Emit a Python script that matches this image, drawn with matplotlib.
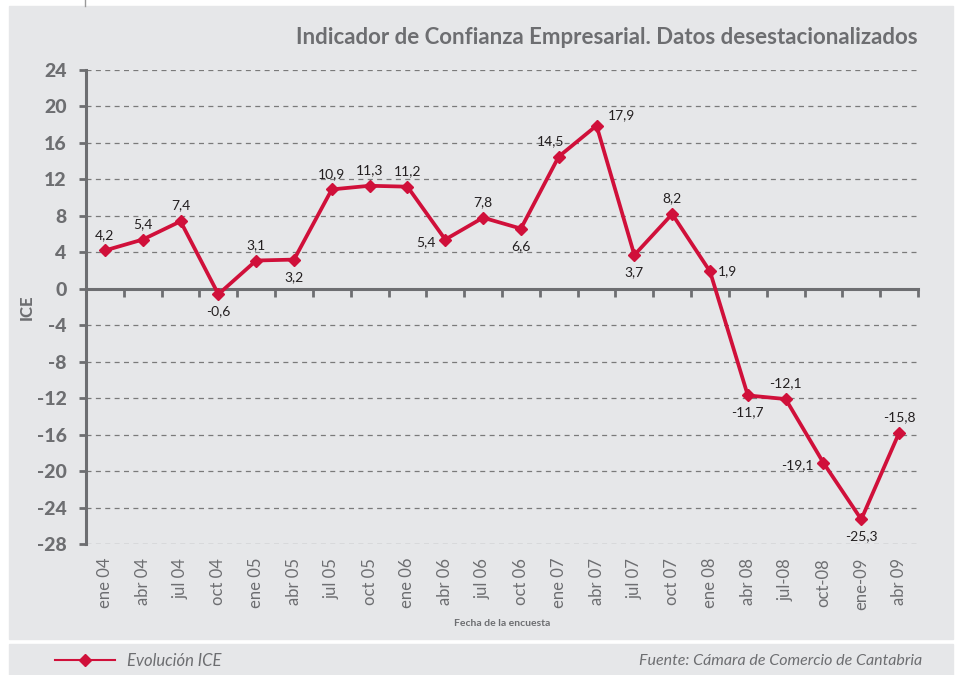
import matplotlib
matplotlib.use("Agg")
import numpy as np
import matplotlib.pyplot as plt
from matplotlib.patches import Rectangle
from matplotlib.lines import Line2D

# data
fechas = ['ene 04', 'abr 04', 'jul 04', 'oct 04', 'ene 05', 'abr 05', 'jul 05', 'oct 05',
          'ene 06', 'abr 06', 'jul 06', 'oct 06', 'ene 07', 'abr 07', 'jul 07', 'oct 07',
          'ene 08', 'abr 08', 'jul-08', 'oct-08', 'ene-09', 'abr 09']
ice = [4.2, 5.4, 7.4, -0.6, 3.1, 3.2, 10.9, 11.3, 11.2, 5.4, 7.8, 6.6,
       14.5, 17.9, 3.7, 8.2, 1.9, -11.7, -12.1, -19.1, -25.3, -15.8]
# where each value label sits relative to its point
label_pos = ['up', 'up', 'up', 'down', 'up', 'down', 'up', 'up', 'up', 'left', 'up', 'down',
             'upleft', 'upright', 'down', 'up', 'right', 'down', 'up', 'left', 'down', 'up']
yticks = list(range(-28, 25, 4))

gray = '#6d6e71'
red = '#d0103a'
panel = '#e6e7e9'
font = 'Lato'

plt.rcParams['font.family'] = [font, 'DejaVu Sans']

fig = plt.figure(figsize=(9.57, 6.75), dpi=100, facecolor='white')
W, H = 957, 675
# background panels
fig.patches.append(Rectangle((9 / W, 1 - 639 / H), 944 / W, 633 / H,
                             transform=fig.transFigure, color=panel, zorder=-5))
fig.patches.append(Rectangle((9 / W, 0), 944 / W, 1 - 644 / H,
                             transform=fig.transFigure, color=panel, zorder=-5))
fig.lines.append(Line2D([85 / W, 85 / W], [1, 1 - 6 / H], transform=fig.transFigure,
                        color='#9a9a9a', lw=1))

ax = fig.add_axes([86 / W, 1 - 544 / H, 832 / W, 474 / H])
ax.set_facecolor('none')

x = np.arange(len(ice))
ax.plot(x, ice, color=red, lw=2.7, marker='D', markersize=6.5, zorder=5, clip_on=False)

off = {'up': ((0, 7), 'center', 'bottom'), 'down': ((0, -8), 'center', 'top'),
       'left': ((-7, -2), 'right', 'center'), 'right': ((6, 0), 'left', 'center'),
       'upleft': ((-6, 7), 'center', 'bottom'), 'upright': ((8, 3), 'left', 'bottom')}
for xi, v, p in zip(x, ice, label_pos):
    d, ha, va = off[p]
    ax.annotate(f'{v:.1f}'.replace('.', ','), (xi, v), xytext=d, textcoords='offset points',
                ha=ha, va=va, fontsize=10, color='#231f20')

ax.set_xlim(-0.5, len(ice) - 0.5)
ax.set_ylim(-28, 24)
ax.set_yticks(yticks)
ax.set_yticklabels([str(t) for t in yticks], fontsize=14, fontweight='black', color=gray)
ax.tick_params(axis='y', direction='out', length=5, width=2, color=gray, pad=9)
ax.yaxis.grid(True, linestyle=(0, (4, 3.5)), color='#7a7a7a', lw=0.9)
ax.set_axisbelow(True)

for s in ['top', 'right']:
    ax.spines[s].set_visible(False)
ax.spines['left'].set_color(gray)
ax.spines['left'].set_linewidth(2.2)
ax.spines['bottom'].set_position(('data', 0))
ax.spines['bottom'].set_color(gray)
ax.spines['bottom'].set_linewidth(2.2)
ax.set_xticks(np.arange(len(ice) + 1) - 0.5)
ax.set_xticklabels([])
ax.tick_params(axis='x', direction='out', length=6, width=2, color=gray)

sec = ax.secondary_xaxis(0.0)
sec.set_xticks(x)
sec.set_xticklabels(fechas, rotation=90, fontsize=12, color=gray)
sec.tick_params(length=0, pad=10)
sec.spines['bottom'].set_visible(False)

ax.set_ylabel('ICE', fontsize=12, fontweight='black', color=gray)
ax.yaxis.set_label_coords(-51 / 832, 0.5)

fig.text(918 / W, 1 - 37 / H, 'Indicador de Confianza Empresarial. Datos desestacionalizados',
         ha='right', va='center', fontsize=16, fontweight='bold', color=gray)
fig.text(502 / W, 1 - 623 / H, 'Fecha de la encuesta', ha='center', va='center',
         fontsize=7.5, fontweight='bold', color=gray)

handle = Line2D([], [], color=red, lw=1.5, marker='D', markersize=6)
fig.legend([handle], ['Evolución ICE'], loc='center left', bbox_to_anchor=(40 / W, 1 - 661 / H),
           frameon=False, handlelength=3.6, handletextpad=0.7, numpoints=1,
           prop={'family': font, 'style': 'italic', 'size': 12}, labelcolor=gray)
fig.text(922 / W, 1 - 661 / H, 'Fuente: Cámara de Comercio de Cantabria', ha='right',
         va='center', fontsize=11.5, style='italic', color=gray)

fig.savefig('out.png', dpi=100, facecolor='white')
